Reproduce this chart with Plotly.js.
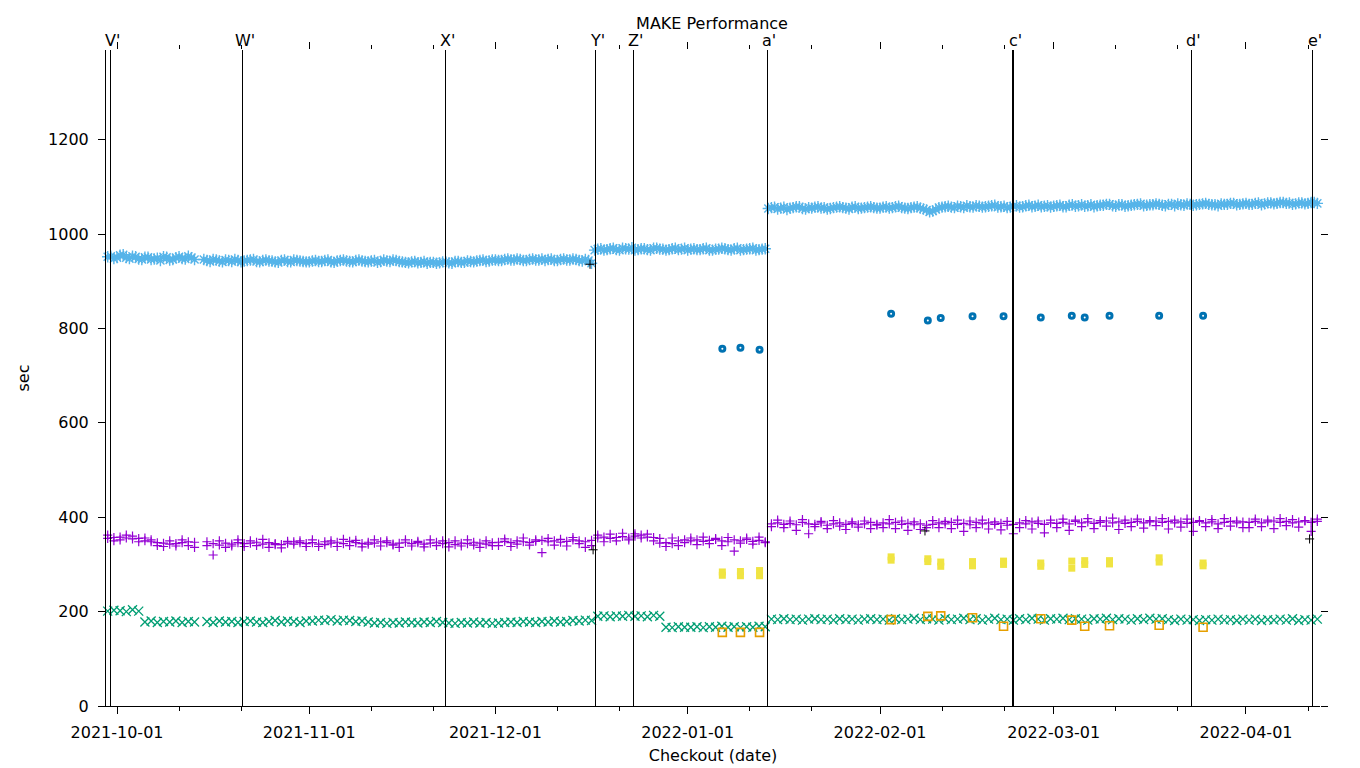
<!DOCTYPE html>
<html>
<head>
<meta charset="utf-8">
<script src="https://cdn.plot.ly/plotly-3.0.1.min.js"></script>
<style>
html,body{margin:0;padding:0;background:#fff;}
#chart{width:1360px;height:768px;}
.shapelayer path{shape-rendering:crispEdges !important;}
</style>
</head>
<body>
<div id="chart"></div>
<script>
// ---- daily series, one value per day starting 2021-09-29 (null = no run) ----
const firstDay = '2021-09-29';

// light blue (*) : total build, noon run
const buildAll = [
  952, 948,
  955, 950, 953, 947, 951, 946, 949, 952, 945, 950, 948, 953, 946, null,
  944, 946, 943, 945, 942, 944, 943, 945, 942, 944, 943, 941, 944, 942, 945, 943, 941,
  943, 942, 944, 941, 943, 945, 942, 944, 943, 941, 944, 942, 943, 945, 942, 940, 941, 939, 942, 940,
  938, 941, 939, 942, 940, 943, 941, 944, 942, 945,
  944, 946, 945, 947, 944, 946, 945, 947, 946, 944, 946, 945, 947, 944, 946, 938,
  968, 966, 969, 967, 970, 968, 966, 969, 967, 970, 968, 966, 969, 967, 970,
  968, 967, 969, 966, 968, 970, 967, 969, 966, 968, 970, 967, 969,
  1056, 1053, 1057, 1055, 1058, 1054, 1056, 1057, 1055, 1053, 1056, 1058, 1055, 1057, 1054, 1056, 1058, 1055,
  1057, 1055, 1058, 1056, 1054, 1057, 1055, 1051, 1049, 1056, 1058, 1057, 1059, 1056, 1058, 1060, 1057, 1059, 1061, 1058,
  1056, 1059, 1057, 1060, 1058, 1061, 1059, 1057,
  1060, 1058, 1061, 1059, 1062, 1060, 1058, 1061, 1063, 1060, 1062, 1059, 1061, 1063, 1060, 1062, 1064, 1061, 1063, 1060,
  1062, 1064, 1061, 1063, 1065, 1062, 1060, 1063, 1065, 1062, 1064,
  1063, 1065, 1062, 1066, 1064, 1067, 1065, 1063, 1066, 1064, 1067, 1065, 1063
];

// light blue (*) : total build, midnight run
const buildNight = [
  949, 953,
  950, 956, 948, 952, 946, 951, 947, 944, 951, 946, 952, 947, 950, null,
  946, 942, 945, 941, 944, 946, 941, 944, 946, 941, 945, 943, 940, 945, 941, 944, 942,
  941, 944, 942, 945, 940, 944, 943, 941, 945, 942, 943, 940, 945, 942, 944, 941, 939, 942, 940, 938,
  940, 939, 941, 938, 942, 940, 942, 943, 945, 943,
  945, 944, 947, 945, 946, 944, 947, 945, 944, 947, 944, 947, 945, 946, 943, 944,
  966, 969, 967, 970, 966, 969, 971, 967, 969, 966, 970, 968, 967, 970, 968,
  966, 969, 967, 970, 966, 968, 969, 966, 970, 967, 969, 966, 968,
  1054, 1057, 1055, 1052, 1056, 1058, 1053, 1055, 1058, 1056, 1054, 1057, 1056, 1053, 1058, 1055, 1057, 1056,
  1055, 1058, 1056, 1059, 1055, 1056, 1058, 1053, 1047, 1052, 1057, 1059, 1056, 1058, 1060, 1057, 1059, 1058, 1060, 1057,
  1059, 1057, 1060, 1058, 1061, 1059, 1058, 1060,
  1059, 1061, 1058, 1062, 1060, 1059, 1062, 1060, 1061, 1063, 1059, 1062, 1060, 1062, 1064, 1061, 1062, 1063, 1060, 1063,
  1064, 1061, 1063, 1062, 1064, 1063, 1062, 1064, 1063, 1065, 1063,
  1065, 1063, 1066, 1064, 1066, 1065, 1067, 1066, 1064, 1066, 1065, 1067, 1064
];

// purple (+) : first run of the day
const runA = [
  355, 357,
  358, 356, 354, 355, 350, 348, 346, 345, 343, 344, 346, 348, 347, null,
  348, 344, 341, 345, 343, 346, 344, 345, 347, 343, 346, 344, 342, 345, 348, 346, 344,
  346, 343, 348, 345, 347, 344, 349, 346, 344, 347, 345, 348, 346, 343, 345, 347, 344, 346, 343, 345,
  347, 344, 346, 342, 345, 344, 347, 345, 343, 346,
  347, 349, 346, 350, 348, 346, 349, 351, 348, 350, 347, 349, 352, 350, 348, 351,
  356, 358, 355, 357, 359, 356, 360, 362, 358, 357, 355, 346, 344, 350, 352,
  350, 352, 349, 351, 353, 350, 348, 352, 350, 353, 349, 351, 348,
  386, 388, 385, 387, 384, 389, 386, 385, 388, 383, 386, 388, 385, 387, 384, 386, 389, 385,
  388, 386, 389, 385, 387, 384, 386, 383, 385, 388, 386, 389, 385, 387, 384, 389, 386, 388, 385, 387,
  383, 385, 388, 386, 390, 387, 385, 388,
  387, 389, 386, 391, 388, 390, 387, 389, 392, 388, 390, 387, 389, 391, 388, 390, 392, 389, 391, 388,
  390, 387, 389, 391, 388, 390, 386, 389, 391, 388, 390,
  389, 391, 388, 390, 392, 389, 391, 388, 390, 392, 389, 391, 388
];

// purple (+) : second run of the day
const runB = [
  362, 350,
  352, 362, 360, 348, 356, 352, 340, 338, 350, 339, 352, 340, 336, null,
  340, 320, 350, 336, 339, 352, 338, 350, 340, 353, 336, 342, 335, 349, 343, 350, 338,
  352, 338, 342, 350, 338, 353, 340, 351, 337, 343, 352, 339, 350, 341, 336, 352, 339, 349, 337, 352,
  340, 350, 337, 350, 339, 352, 341, 336, 350, 340,
  340, 354, 338, 343, 356, 341, 352, 325, 355, 341, 353, 339, 357, 344, 336, 340,
  362, 348, 364, 350, 366, 352, 365, 356, 364, 350, 345, 338, 356, 340, 346,
  356, 342, 358, 344, 355, 340, 357, 328, 345, 356, 343, 358, 346,
  380, 394, 378, 392, 372, 395, 365, 380, 391, 376, 393, 381, 374, 390, 379, 392, 376, 383,
  378, 395, 376, 392, 372, 390, 374, 378, 393, 378, 391, 376, 394, 370, 392, 378, 394, 375, 390, 373,
  391, 365, 378, 393, 375, 392, 367, 394,
  378, 396, 372, 394, 380, 397, 376, 393, 381, 398, 374, 394, 380, 396, 377, 393, 382, 397, 375, 394,
  379, 396, 370, 393, 380, 395, 376, 397, 381, 392, 378,
  378, 396, 380, 394, 376, 397, 382, 395, 379, 393, 370, 396, 380
];

// green (x)
const runC = [
  201, 203,
  202, 200, 204, 201, 178, 180, 177, 179, 178, 180, 177, 179, 178, null,
  179, 177, 180, 178, 179, 177, 179, 180, 178, 177, 179, 181, 178, 180, 179, 177, 180,
  180, 182, 181, 183, 180, 182, 181, 179, 180, 178, 176, 177, 175, 177, 176, 178, 177, 176, 178, 177,
  179, 177, 176, 175, 177, 176, 178, 176, 177, 175,
  176, 177, 178, 177, 179, 178, 177, 179, 178, 180, 178, 179, 181, 180, 182, 181,
  190, 191, 189, 191, 190, 192, 190, 191, 189, 192, 190, 167, 166, 168, 167,
  167, 168, 166, 168, 167, 169, 167, 168, 166, 168, 167, 169, 168,
  184, 183, 185, 183, 184, 182, 184, 185, 183, 184, 182, 185, 183, 184, 182, 184, 185, 183,
  184, 182, 185, 183, 184, 186, 183, 185, 184, 182, 185, 183, 184, 186, 183, 185, 182, 184, 186, 183,
  184, 182, 185, 183, 186, 184, 182, 185,
  184, 186, 183, 185, 184, 182, 185, 184, 186, 183, 185, 184, 182, 185, 183, 186, 184, 185, 183, 181,
  184, 182, 183, 181, 183, 182, 184, 182, 183, 181, 184,
  182, 184, 181, 183, 182, 184, 182, 185, 181, 183, 182, 184, 183
];

// ---- occasional runs ----
const extraDates = ['2022-01-06 14:00', '2022-01-09 12:00', '2022-01-12 14:00', '2022-02-02 19:00',
  '2022-02-08 17:00', '2022-02-10 19:00', '2022-02-15 22:00', '2022-02-20 22:00', '2022-02-26 22:00',
  '2022-03-03 22:00', '2022-03-06 00:00', '2022-03-10 00:00', '2022-03-18 00:00', '2022-03-25 02:00'];
const orangeVals = [156, 156, 156, 183, 190, 191, 187, 169, 185, 182, 169, 170, 171, 167];
const yellowHigh = [284, 285, 287, 316, 312, 305, 306, 307, 303, 307, 308, 308, 314, 303];
const yellowLow  = [277, 276, 276, 309, 306, 296, 297, 300, 296, 292, 300, 301, 305, 297];
const darkBlueVals = [757, 759, 755, 831, 817, 822, 826, 826, 823, 827, 823, 827, 827, 827];

// black (+) : stray runs
const strayDates = ['2021-12-16 06:00', '2021-12-16 18:00', '2022-02-08 06:00', '2022-04-11 06:00'];
const strayVals = [936, 331, 371, 354];

// ---- release markers ----
const releaseDates = ['2021-09-30 00:00', '2021-10-21 07:00', '2021-11-22 21:00', '2021-12-17 01:30',
  '2021-12-23 04:30', '2022-01-13 19:00', '2022-02-22 11:00', '2022-03-23 07:00', '2022-04-11 19:00'];
const releaseLabels = ["V'", "W'", "X'", "Y'", "Z'", "a'", "c'", "d'", "e'"];
const releaseWidths = [1, 1, 1, 1, 1, 1, 2, 1, 1];

// ---- axis ticks ----
const monthTicks = ['2021-10-01', '2021-11-01', '2021-12-01', '2022-01-01', '2022-02-01', '2022-03-01', '2022-04-01'];
const minorTicks = ['2021-10-11', '2021-10-21', '2021-11-11', '2021-11-21', '2021-12-11', '2021-12-21',
  '2022-01-11', '2022-01-21', '2022-02-11', '2022-02-21', '2022-03-11', '2022-03-21', '2022-04-11'];

function dailyDates(n, hour) {
  const out = [];
  const d0 = new Date(firstDay + 'T00:00:00Z');
  for (let i = 0; i < n; i++) {
    const d = new Date(d0.getTime() + i * 86400000);
    out.push(d.toISOString().slice(0, 10) + ' ' + hour);
  }
  return out;
}
const days = dailyDates(buildAll.length, '12:00');
const nights = dailyDates(buildNight.length, '00:00');

const FONT = 'DejaVu Sans, Liberation Sans, sans-serif';

function pts(x, y, symbol, size, color, lw) {
  return {
    type: 'scatter', mode: 'markers', x: x, y: y, cliponaxis: false, hoverinfo: 'skip', showlegend: false,
    marker: { symbol: symbol, size: size, color: color, line: { width: lw, color: color } }
  };
}

const traces = [
  pts(days, runA, 'cross-thin-open', 6.5, '#9400D3', 1.2),
  pts(days, runB, 'cross-thin-open', 6.5, '#9400D3', 1.2),
  pts(days, runC, 'x-thin-open', 9, '#009E73', 1.3),
  pts(nights, buildNight, 'asterisk-open', 9.5, '#56B4E9', 1.4),
  pts(days, buildAll, 'asterisk-open', 9.5, '#56B4E9', 1.4),
  pts(strayDates, strayVals, 'cross-thin-open', 6.5, '#000000', 1),
  pts(extraDates, orangeVals, 'square-open', 8, '#E69F00', 1.6),
  pts(extraDates, yellowHigh, 'square', 7, '#F0E442', 0),
  pts(extraDates, yellowLow, 'square', 7, '#F0E442', 0),
  pts(extraDates, darkBlueVals, 'circle-open', 5, '#0072B2', 3),
  { type: 'scatter', mode: 'markers', x: [], y: [], xaxis: 'x2', yaxis: 'y2', showlegend: false, hoverinfo: 'skip' }
];

const xRange = ['2021-09-29 05:27', '2022-04-12 22:20'];
const yRange = [0, 1390];

const shapes = releaseDates.map((d, i) => ({
  type: 'line', xref: 'x', yref: 'paper', x0: d, x1: d, y0: 0, y1: 1,
  line: { color: '#000', width: releaseWidths[i] }, layer: 'above'
}));

const annotations = releaseDates.map((d, i) => ({
  x: d, xref: 'x', y: 1, yref: 'paper', yanchor: 'bottom', xanchor: 'center', xshift: 2, yshift: -1,
  borderpad: 0,
  text: releaseLabels[i], showarrow: false, font: { family: FONT, size: 16, color: '#000' }
}));

const tickCommon = {
  ticks: 'outside', ticklen: 7, tickwidth: 1, tickcolor: '#000',
  showgrid: false, zeroline: false,
  tickfont: { family: FONT, size: 16, color: '#000' }
};

const layout = {
  width: 1360, height: 768,
  margin: { l: 106, r: 40, t: 50, b: 62 },
  paper_bgcolor: '#fff', plot_bgcolor: '#fff',
  font: { family: FONT, size: 16, color: '#000' },
  showlegend: false,
  title: { text: 'MAKE Performance', x: 712 / 1360, xref: 'container', xanchor: 'center', y: 1 - 23.5 / 768, yref: 'container', yanchor: 'middle',
           font: { family: FONT, size: 16, color: '#000' } },
  xaxis: Object.assign({}, tickCommon, {
    type: 'date', range: xRange, autorange: false,
    tickmode: 'array', tickvals: monthTicks, ticktext: monthTicks,
    showline: true, linecolor: '#000', linewidth: 1,
    ticklabelstandoff: 5,
    minor: { tickmode: 'array', tickvals: minorTicks, ticks: 'outside', ticklen: 4, tickwidth: 1, tickcolor: '#000', showgrid: false },
    title: { text: 'Checkout (date)', standoff: 8, font: { family: FONT, size: 16, color: '#000' } }
  }),
  yaxis: Object.assign({}, tickCommon, {
    range: yRange, autorange: false, tickmode: 'linear', tick0: 0, dtick: 200,
    showline: true, linecolor: '#000', linewidth: 1,
    ticklabelstandoff: 6,
    title: { text: 'sec', standoff: 14, font: { family: FONT, size: 16, color: '#000' } }
  }),
  xaxis2: Object.assign({}, tickCommon, {
    type: 'date', range: xRange, autorange: false, overlaying: 'x', side: 'top', anchor: 'y', matches: 'x',
    tickmode: 'array', tickvals: monthTicks, showticklabels: false, showline: false,
    minor: { tickmode: 'array', tickvals: minorTicks, ticks: 'outside', ticklen: 4, tickwidth: 1, tickcolor: '#000', showgrid: false }
  }),
  yaxis2: Object.assign({}, tickCommon, {
    range: yRange, autorange: false, overlaying: 'y', side: 'right', anchor: 'x', matches: 'y',
    tickmode: 'linear', tick0: 0, dtick: 200, showticklabels: false, showline: false
  }),
  shapes: shapes,
  annotations: annotations
};

Plotly.newPlot('chart', traces, layout, { staticPlot: true, displayModeBar: false });
</script>
</body>
</html>
